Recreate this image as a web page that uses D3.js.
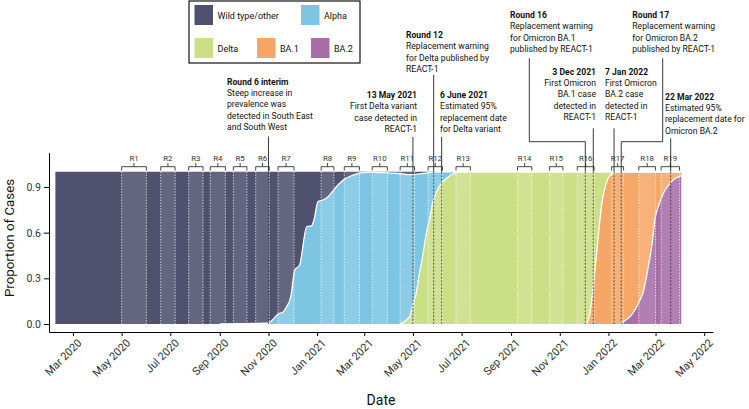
<!DOCTYPE html>
<html><head><meta charset="utf-8">
<script src="https://cdn.jsdelivr.net/npm/d3@7"></script>
<style>
body{margin:0;background:#fff;}
svg{display:block;font-family:Roboto,"Noto Sans",sans-serif;}
</style></head><body>
<svg id="chart" width="749" height="409"></svg>
<script>
// ---------------- DATA ----------------
const variants = ["Wild type/other","Alpha","Delta","BA.1","BA.2"];
const variantColors = ["#4f516e","#7cc6e4","#cbdf87","#f6a767","#a76ea8"];

// cumulative share of cases that are this variant or a later one
const wildDates = ["2020-02-08","2022-04-02"];
const wildCum   = [1, 1];

const alphaDates = ["2020-09-01","2020-10-01","2020-10-31","2020-11-06","2020-11-13","2020-11-19","2020-11-23","2020-11-29","2020-12-04","2020-12-10","2020-12-19","2020-12-25","2020-12-28","2021-01-02","2021-01-08","2021-01-14","2021-01-20","2021-01-27","2021-02-04","2021-02-15","2021-02-25","2021-03-10","2021-03-25","2021-04-10","2021-04-20","2021-04-27","2021-05-04","2021-05-12","2021-05-20","2021-05-28","2021-06-05","2022-04-02"];
const alphaCum   = [0, 0.003, 0.005, 0.026, 0.066, 0.077, 0.107, 0.18, 0.355, 0.387, 0.64, 0.645, 0.683, 0.803, 0.814, 0.832, 0.869, 0.913, 0.95, 0.978, 0.993, 0.997, 0.994, 0.99, 0.984, 0.981, 0.982, 0.987, 0.993, 0.998, 1, 1];

const deltaDates = ["2021-04-14","2021-04-20","2021-04-27","2021-05-01","2021-05-05","2021-05-09","2021-05-13","2021-05-18","2021-05-22","2021-05-26","2021-05-30","2021-06-05","2021-06-12","2021-06-18","2021-06-24","2021-07-03","2022-04-02"];
const deltaCum   = [0, 0.015, 0.05, 0.13, 0.2, 0.33, 0.44, 0.6, 0.69, 0.8, 0.86, 0.92, 0.955, 0.98, 0.993, 1, 1];

const ba1Dates = ["2021-12-04","2021-12-08","2021-12-12","2021-12-16","2021-12-20","2021-12-24","2021-12-29","2022-01-02","2022-01-08","2022-01-17","2022-04-02"];
const ba1Cum   = [0, 0.05, 0.2, 0.4, 0.62, 0.8, 0.92, 0.97, 0.993, 1, 1];

const ba2Dates = ["2022-01-15","2022-01-21","2022-01-30","2022-02-07","2022-02-14","2022-02-20","2022-02-25","2022-02-28","2022-03-05","2022-03-11","2022-03-17","2022-03-23","2022-03-29","2022-04-02"];
const ba2Cum   = [0, 0.02, 0.06, 0.13, 0.22, 0.38, 0.54, 0.68, 0.78, 0.86, 0.91, 0.945, 0.965, 0.972];

const roundLabels = ["R1","R2","R3","R4","R5","R6","R7","R8","R9","R10","R11","R12","R13","R14","R15","R16","R17","R18","R19"];
const roundStarts = ["2020-05-01","2020-06-19","2020-07-24","2020-08-20","2020-09-18","2020-10-16","2020-11-13","2021-01-06","2021-02-04","2021-03-11","2021-04-15","2021-05-20","2021-06-24","2021-09-09","2021-10-19","2021-11-23","2022-01-05","2022-02-08","2022-03-08"];
const roundEnds   = ["2020-06-01","2020-07-07","2020-08-11","2020-09-08","2020-10-05","2020-11-02","2020-12-03","2021-01-22","2021-02-23","2021-03-30","2021-05-03","2021-06-07","2021-07-12","2021-09-27","2021-11-05","2021-12-14","2022-01-20","2022-03-01","2022-03-31"];

const xTickDates = ["2020-03-01","2020-05-01","2020-07-01","2020-09-01","2020-11-01","2021-01-01","2021-03-01","2021-05-01","2021-07-01","2021-09-01","2021-11-01","2022-01-01","2022-03-01","2022-05-01"];
const yTicks = [0, 0.3, 0.6, 0.9];

const annotTitles = ["Round 6 interim","Round 12","13 May 2021","6 June 2021","Round 16","3 Dec 2021","7 Jan 2022","Round 17","22 Mar 2022"];
const annotBodies = [
  ["Steep increase in","prevalence was","detected in South East","and South West"],
  ["Replacement warning","for Delta published by","REACT-1"],
  ["First Delta variant","case detected in","REACT-1"],
  ["Estimated 95%","replacement date","for Delta variant"],
  ["Replacement warning","for Omicron BA.1","published by REACT-1"],
  ["First Omicron","BA.1 case","detected in","REACT-1"],
  ["First Omicron","BA.2 case","detected in","REACT-1"],
  ["Replacement warning","for Omicron BA.2","published by REACT-1"],
  ["Estimated 95%","replacement date for","Omicron BA.2"]
];
const annotDates = ["2020-11-01","2021-05-27","2021-05-01","2021-06-06","2021-12-03","2021-12-13","2022-01-08","2022-01-17","2022-03-20"];

// ---------------- LAYOUT ----------------
const annotLayout = [
  {tx:227, ty:81.7, anchor:"start", top:136.5},
  {tx:406, ty:35,   anchor:"start", top:75},
  {tx:417, ty:95,   anchor:"end",   top:137},
  {tx:440, ty:95,   anchor:"start", top:137},
  {tx:510, ty:15,   anchor:"start", elbowX:529.3, top:58.3, elbowY:141.7},
  {tx:596, ty:71.7, anchor:"end",   top:128.3},
  {tx:605, ty:71.7, anchor:"start", top:128.3},
  {tx:632.3, ty:15, anchor:"start", elbowX:662.7, top:58.3, elbowY:141.7},
  {tx:665, ty:96.7, anchor:"start", top:138.3}
];
const lineH = 11.3;

const parse = d3.timeParse("%Y-%m-%d");
const svg = d3.select("#chart");
const x = d3.scaleTime().domain([parse("2020-01-31"), parse("2022-05-12")]).range([49, 713]);
const y = d3.scaleLinear().domain([-0.0525, 1.125]).range([332, 152.7]);

const layers = [
  {dates: wildDates, cum: wildCum},
  {dates: alphaDates, cum: alphaCum},
  {dates: deltaDates, cum: deltaCum},
  {dates: ba1Dates, cum: ba1Cum},
  {dates: ba2Dates, cum: ba2Cum}
].map((l, i) => ({color: variantColors[i], pts: l.dates.map((d, j) => ({d: parse(d), v: l.cum[j]}))}));

const area = d3.area().curve(d3.curveMonotoneX).x(p => x(p.d)).y0(y(0)).y1(p => y(p.v));
const line = d3.line().curve(d3.curveMonotoneX).x(p => x(p.d)).y(p => y(p.v));

const gArea = svg.append("g");
layers.forEach(l => gArea.append("path").attr("d", area(l.pts)).attr("fill", l.color));

// round band overlays
const rounds = roundLabels.map((r, i) => ({r, s: parse(roundStarts[i]), e: parse(roundEnds[i])}));
gArea.selectAll(".band").data(rounds).join("rect")
  .attr("x", d => x(d.s)).attr("width", d => x(d.e) - x(d.s))
  .attr("y", y(1)).attr("height", y(0) - y(1))
  .attr("fill", "#fff").attr("fill-opacity", 0.12);

// boundary lines
layers.slice(1).forEach(l => gArea.append("path").attr("d", line(l.pts))
  .attr("fill", "none").attr("stroke", "#fff").attr("stroke-width", 1.3));

// dotted band edges
rounds.forEach(d => {
  [d.s, d.e].forEach(t => gArea.append("line")
    .attr("x1", x(t)).attr("x2", x(t)).attr("y1", y(1)).attr("y2", y(0))
    .attr("stroke", "#fff").attr("stroke-width", 0.8).attr("stroke-dasharray", "1.4,1.4").attr("stroke-opacity", 0.9));
});

// brackets
const gBr = svg.append("g").attr("stroke", "#333").attr("stroke-width", 0.9).attr("fill", "none");
rounds.forEach(d => {
  const x0 = x(d.s), x1 = x(d.e), xm = (x0 + x1) / 2;
  gBr.append("path").attr("d", `M${x0},170.5V166.7H${x1}V170.5M${xm},166.7V163`);
});
svg.append("g").selectAll("text").data(rounds).join("text")
  .attr("x", d => (x(d.s) + x(d.e)) / 2).attr("y", 160.5)
  .attr("text-anchor", "middle").attr("font-size", 7.8).attr("fill", "#333").text(d => d.r);

// annotations
const gAn = svg.append("g");
annotTitles.forEach((t, i) => {
  const L = annotLayout[i];
  const txt = gAn.append("text").attr("x", L.tx).attr("y", L.ty + 3).attr("text-anchor", L.anchor)
    .attr("font-size", 8.6).attr("fill", "#111");
  txt.append("tspan").attr("x", L.tx).attr("font-weight", "bold").text(t);
  annotBodies[i].forEach(b => txt.append("tspan").attr("x", L.tx).attr("dy", lineH).text(b));
  const xd = x(parse(annotDates[i]));
  let d;
  if (L.elbowX !== undefined) d = `M${L.elbowX},${L.top}V${L.elbowY}H${xd}V${y(1)}`;
  else d = `M${xd},${L.top}V${y(1)}`;
  gAn.append("path").attr("d", d).attr("fill", "none").attr("stroke", "#222").attr("stroke-width", 0.9);
  gAn.append("line").attr("x1", xd).attr("x2", xd).attr("y1", y(1)).attr("y2", y(0))
    .attr("stroke", "#333").attr("stroke-width", 0.8).attr("stroke-dasharray", "2,1.5");
});

// axes
const xAxis = svg.append("g").attr("transform", `translate(0,332)`)
  .call(d3.axisBottom(x).tickValues(xTickDates.map(parse)).tickSize(4).tickSizeOuter(0).tickFormat(d3.timeFormat("%b %Y")));
xAxis.select(".domain").attr("stroke", "#000");
xAxis.selectAll(".tick line").attr("stroke", "#000");
xAxis.selectAll(".tick text").attr("font-size", 11).attr("fill", "#333").attr("font-family", "Roboto")
  .attr("text-anchor", "end").attr("y", 0)
  .attr("transform", "translate(3.5,6) rotate(-45)").attr("dy", "0.71em");

const yAxis = svg.append("g").attr("transform", `translate(49,0)`)
  .call(d3.axisLeft(y).tickValues(yTicks).tickSize(5).tickSizeOuter(0).tickFormat(d3.format(".1f")));
yAxis.select(".domain").attr("stroke", "#000");
yAxis.selectAll(".tick line").attr("stroke", "#000");
yAxis.selectAll(".tick text").attr("font-size", 10.5).attr("fill", "#333").attr("font-family", "Roboto");

svg.append("text").attr("x", 381).attr("y", 405).attr("text-anchor", "middle")
  .attr("font-size", 14).attr("fill", "#111").text("Date");
svg.append("text").attr("transform", "translate(14,238) rotate(-90)").attr("text-anchor", "middle")
  .attr("font-size", 13.3).attr("fill", "#111").text("Proportion of Cases");

// legend
const legendPos = [{x:194.5,y:5},{x:301,y:5},{x:194.5,y:38},{x:257,y:38},{x:311,y:38}];
const lg = svg.append("g");
lg.append("rect").attr("x", 189).attr("y", 1).attr("width", 171).attr("height", 62)
  .attr("fill", "#fff").attr("stroke", "#111").attr("stroke-width", 1.2);
variants.forEach((v, i) => {
  const p = legendPos[i];
  lg.append("rect").attr("x", p.x).attr("y", p.y).attr("width", 18.5).attr("height", 20).attr("fill", variantColors[i]);
  lg.append("text").attr("x", p.x + 23).attr("y", p.y + 13.5).attr("font-size", 9).attr("fill", "#111").text(v);
});
</script>
</body></html>
